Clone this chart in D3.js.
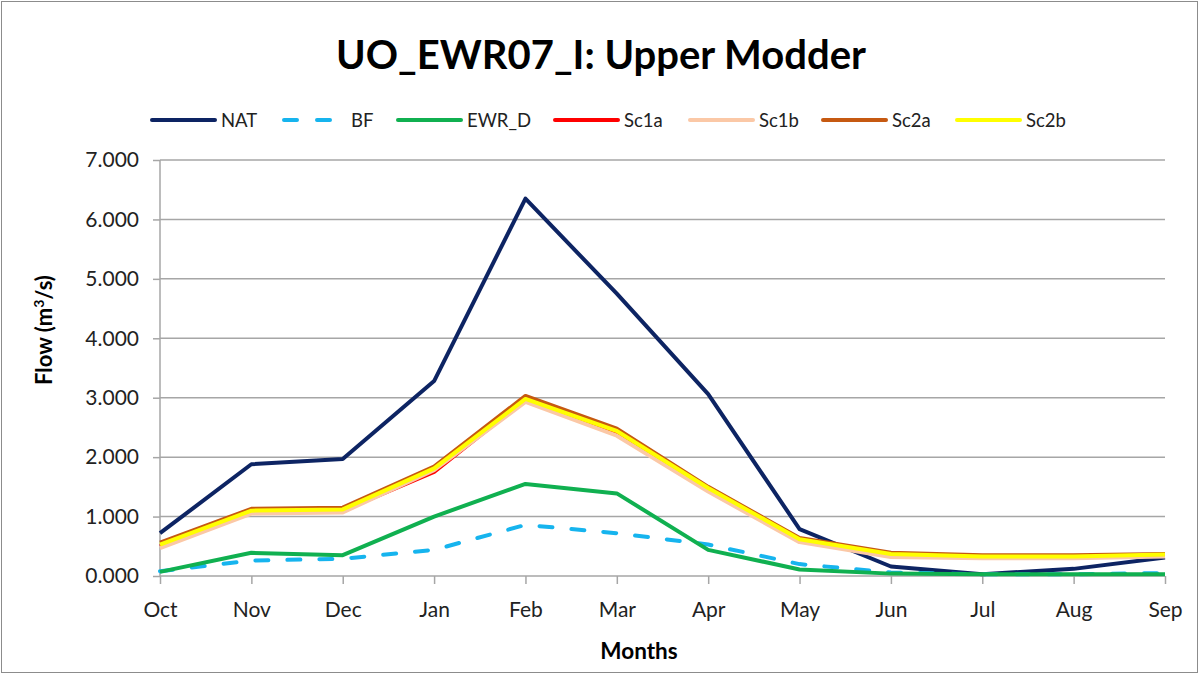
<!DOCTYPE html>
<html><head><meta charset="utf-8">
<script src="https://cdn.jsdelivr.net/npm/d3@7"></script>
<style>body{margin:0;background:#fff}svg{display:block}</style>
</head><body>
<svg id="c" width="1200" height="675"></svg>
<script>
const months = ["Oct","Nov","Dec","Jan","Feb","Mar","Apr","May","Jun","Jul","Aug","Sep"];
const NAT   = [0.72,1.88,1.97,3.28,6.35,4.75,3.06,0.79,0.16,0.03,0.12,0.31];
const BF    = [0.08,0.26,0.29,0.44,0.86,0.72,0.53,0.20,0.06,0.03,0.03,0.05];
const EWR_D = [0.07,0.39,0.35,1.00,1.55,1.39,0.44,0.11,0.04,0.03,0.03,0.03];
const Sc1a  = [0.50,1.08,1.10,1.75,2.97,2.40,1.45,0.60,0.35,0.32,0.32,0.34];
const Sc1b  = [0.47,1.05,1.07,1.78,2.93,2.36,1.42,0.57,0.32,0.30,0.30,0.33];
const Sc2a  = [0.56,1.13,1.15,1.84,3.03,2.48,1.50,0.64,0.39,0.35,0.35,0.37];
const Sc2b  = [0.53,1.10,1.12,1.81,2.98,2.44,1.48,0.62,0.37,0.33,0.33,0.36];
const yTicks = [0,1,2,3,4,5,6,7];
const seriesNames = ["NAT","BF","EWR_D","Sc1a","Sc1b","Sc2a","Sc2b"];
const seriesData = [NAT,BF,EWR_D,Sc1a,Sc1b,Sc2a,Sc2b];
const seriesColors = ["#0d2463","#16b4ee","#10b050","#ff0000","#fbc8a6","#c65911","#ffff00"];
const legendX = [152,282,398,555,690,823,957];

const F = "Lato, 'Open Sans', sans-serif";
const svg = d3.select("#c");
svg.append("rect").attr("x",1.5).attr("y",1.5).attr("width",1196).attr("height",671)
  .attr("fill","#fff").attr("stroke","#8c8c8c").attr("stroke-width",1);

const x = d3.scalePoint().domain(months).range([160,1165]);
const y = d3.scaleLinear().domain([0,7]).range([576,160]);

function fit(sel, target){
  const fs = +sel.attr("font-size");
  const w = sel.node().getComputedTextLength();
  sel.attr("font-size", fs*target/w);
}

// gridlines
svg.append("g").selectAll("line").data(yTicks.filter(d=>d>0)).join("line")
  .attr("x1",160).attr("x2",1165).attr("y1",d=>y(d)).attr("y2",d=>y(d))
  .attr("stroke","#a6a6a6").attr("stroke-width",1.5);

// y axis
const ya = svg.append("g").attr("transform","translate(160,0)")
  .call(d3.axisLeft(y).tickValues(yTicks).tickFormat(d3.format(".3f")).tickSize(7).tickPadding(14));
ya.selectAll("path,line").attr("stroke","#a6a6a6").attr("stroke-width",1.5);
ya.select(".domain").attr("d","M0,160V576");
ya.selectAll("text").attr("font-family",F).attr("font-size",21).attr("fill","#222");

// x axis
const xa = svg.append("g").attr("transform","translate(0,576)")
  .call(d3.axisBottom(x).tickSize(8).tickPadding(18));
xa.selectAll("path,line").attr("stroke","#a6a6a6").attr("stroke-width",1.5);
xa.select(".domain").attr("d","M160,0H1165");
xa.selectAll("text").attr("font-family",F).attr("font-size",21).attr("fill","#222");

// lines
const line = d3.line().x((d,i)=>x(months[i])).y(d=>y(d));
seriesData.forEach((s,k)=>{
  svg.append("path").datum(s).attr("d",line).attr("fill","none")
    .attr("stroke",seriesColors[k]).attr("stroke-width",4)
    .attr("stroke-linejoin","round")
    .attr("stroke-linecap",k===1?"round":"butt")
    .attr("stroke-dasharray",k===1?"13,19":null);
});

// legend
seriesNames.forEach((n,k)=>{
  const lx = legendX[k];
  svg.append("line").attr("x1",lx+(k===1?2:0)).attr("x2",lx+(k===1?48:63)).attr("y1",120).attr("y2",120)
    .attr("stroke",seriesColors[k]).attr("stroke-width",4).attr("stroke-linecap","round")
    .attr("stroke-dasharray",k===1?"13,20":null);
  svg.append("text").attr("x",lx+(k===1?69:69)).attr("y",126.5).text(n)
    .attr("font-family",F).attr("font-size",18.5).attr("fill","#222");
});

// title
const t = svg.append("text").attr("x",601).attr("y",69).attr("text-anchor","middle")
  .attr("font-family",F).attr("font-weight","bold").attr("font-size",40).attr("fill","#000")
  .text("UO_EWR07_I: Upper Modder");
fit(t,530);

// axis titles
const yt = svg.append("text").attr("transform","translate(52,330) rotate(-90)")
  .attr("text-anchor","middle").attr("font-family",F).attr("font-weight","bold")
  .attr("font-size",22).attr("fill","#000");
yt.append("tspan").text("Flow (m");
yt.append("tspan").text("3").attr("font-size",14).attr("dy",-8);
yt.append("tspan").text("/s)").attr("dy",8);
svg.append("text").attr("x",639).attr("y",659).attr("text-anchor","middle")
  .attr("font-family",F).attr("font-weight","bold").attr("font-size",22.5).attr("fill","#000")
  .text("Months");
</script>
</body></html>
